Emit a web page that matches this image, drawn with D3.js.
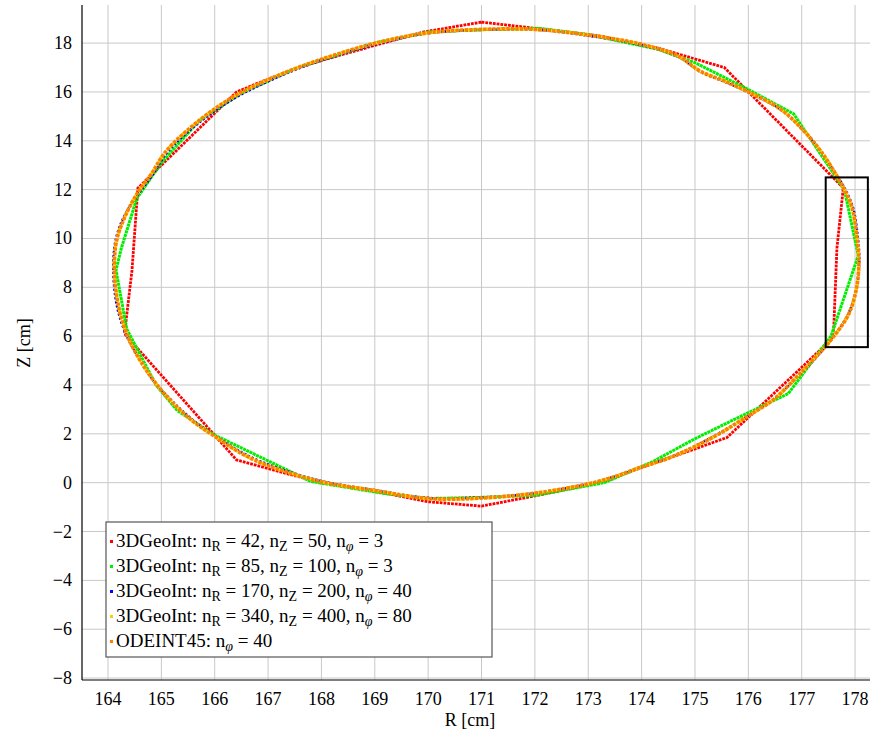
<!DOCTYPE html>
<html><head><meta charset="utf-8"><script src="https://cdn.jsdelivr.net/npm/d3@7"></script></head>
<body style="margin:0">
<svg id="chart" width="872" height="738"></svg>
<script>
// field line cross-sections, [R, Z] in cm

// 3DGeoInt nR=42, nZ=50, nphi=3 (coarse, piecewise linear)
const geo42 = [
  [171.0, 18.86], [172.1, 18.58], [173.2, 18.3], [174.3, 17.8], [175.55, 17.0],
  [177.78, 12.07], [177.66, 9.6], [177.6, 6.3], [177.55, 5.85], [175.6, 1.85],
  [174.7, 1.15], [173.97, 0.6], [173.3, 0.05], [172.1, -0.5], [171.0, -0.96],
  [170.0, -0.78], [169.0, -0.35], [167.9, 0.05], [166.41, 0.93], [164.31, 6.1],
  [164.45, 8.7], [164.56, 12.06], [166.41, 16.0], [166.8, 16.35], [167.6, 17.03],
  [168.5, 17.6], [169.9, 18.45]
];

// 3DGeoInt nR=85, nZ=100, nphi=3
const geo85 = [
  [171.0, 18.55], [172.1, 18.6], [173.0, 18.35], [174.3, 17.75], [175.0, 17.2],
  [176.0, 16.1], [176.85, 15.1], [177.8, 12.0], [178.06, 9.3], [177.55, 6.0],
  [176.75, 3.65], [175.7, 2.55], [175.0, 1.8], [174.2, 0.85], [173.3, 0.0],
  [172.0, -0.52], [171.0, -0.6], [170.0, -0.65], [169.2, -0.45], [167.8, 0.05],
  [166.0, 1.95], [165.3, 2.95], [164.9, 4.0], [164.35, 6.3], [164.15, 8.7],
  [164.25, 9.6], [164.54, 11.64], [165.0, 13.1], [165.7, 14.8], [166.5, 15.95],
  [167.5, 16.95], [169.0, 18.0], [170.0, 18.45]
];

// 3DGeoInt nR=170, nZ=200, nphi=40
const geo170 = [
  [169.1, 18.0], [170.0, 18.4], [171.0, 18.54], [172.0, 18.55], [173.0, 18.3],
  [174.0, 17.92], [174.7, 17.42], [175.1, 16.82], [175.55, 16.42], [176.0, 15.98],
  [176.6, 15.28], [177.0, 14.5], [177.35, 13.6], [177.62, 12.72], [177.82, 12.0],
  [177.97, 11.2], [178.05, 10.1], [178.08, 9.1], [178.03, 8.0], [177.87, 6.9],
  [177.55, 5.85], [177.22, 5.0], [176.86, 4.2], [176.48, 3.42], [175.98, 2.72],
  [175.47, 2.05], [174.97, 1.47], [174.5, 1.02], [173.97, 0.63], [173.5, 0.26],
  [173.0, -0.04], [172.0, -0.43], [171.0, -0.6], [170.0, -0.62], [169.0, -0.3],
  [168.0, 0.07], [167.0, 0.75], [166.5, 1.25], [166.0, 1.93], [165.6, 2.55],
  [165.2, 3.35], [164.84, 4.2], [164.55, 5.2], [164.33, 6.1], [164.17, 7.2],
  [164.1, 8.6], [164.14, 9.9], [164.3, 10.9], [164.56, 11.8], [164.82, 12.55],
  [165.12, 13.55], [165.74, 14.8], [166.38, 15.75], [167.02, 16.45], [167.62, 17.0],
  [168.3, 17.5]
];

// 3DGeoInt nR=340, nZ=400, nphi=80
const geo340 = [
  [169.1, 18.04], [170.0, 18.42], [171.0, 18.56], [172.0, 18.56], [173.0, 18.33],
  [174.0, 17.95], [174.7, 17.45], [175.1, 16.84], [175.55, 16.45], [176.0, 16.0],
  [176.6, 15.3], [177.0, 14.5], [177.35, 13.6], [177.62, 12.7], [177.8, 12.0],
  [177.95, 11.2], [178.03, 10.1], [178.07, 9.1], [178.03, 8.0], [177.88, 6.9],
  [177.55, 5.85], [177.2, 5.0], [176.85, 4.2], [176.47, 3.4], [175.97, 2.7],
  [175.47, 2.02], [174.97, 1.45], [174.5, 1.0], [173.97, 0.62], [173.5, 0.25],
  [173.0, -0.05], [172.0, -0.43], [171.0, -0.63], [170.0, -0.65], [169.0, -0.32],
  [168.0, 0.04], [167.0, 0.7], [166.5, 1.2], [166.0, 1.9], [165.6, 2.5],
  [165.2, 3.3], [164.85, 4.2], [164.55, 5.2], [164.35, 6.1], [164.2, 7.2],
  [164.12, 8.6], [164.16, 9.9], [164.32, 10.9], [164.55, 11.85], [164.8, 12.6],
  [165.1, 13.6], [165.72, 14.85], [166.35, 15.8], [167.0, 16.5], [167.6, 17.03],
  [168.3, 17.55]
];

// ODEINT45 nphi=40
const odeint45 = [
  [169.1, 18.05], [170.0, 18.42], [171.0, 18.56], [172.0, 18.56], [173.0, 18.33],
  [174.0, 17.95], [174.7, 17.45], [175.1, 16.85], [175.55, 16.45], [176.0, 16.0],
  [176.6, 15.3], [177.0, 14.5], [177.35, 13.6], [177.62, 12.7], [177.8, 12.0],
  [177.95, 11.2], [178.03, 10.1], [178.07, 9.1], [178.03, 8.0], [177.88, 6.9],
  [177.55, 5.85], [177.2, 5.0], [176.85, 4.2], [176.47, 3.4], [175.97, 2.7],
  [175.47, 2.02], [174.97, 1.45], [174.5, 1.0], [173.97, 0.62], [173.5, 0.25],
  [173.0, -0.05], [172.0, -0.43], [171.0, -0.63], [170.0, -0.65], [169.0, -0.32],
  [168.0, 0.04], [167.0, 0.7], [166.5, 1.2], [166.0, 1.9], [165.6, 2.5],
  [165.2, 3.3], [164.85, 4.2], [164.55, 5.2], [164.35, 6.1], [164.2, 7.2],
  [164.12, 8.6], [164.16, 9.9], [164.32, 10.9], [164.55, 11.85], [164.8, 12.6],
  [165.1, 13.6], [165.72, 14.85], [166.35, 15.8], [167.0, 16.5], [167.6, 17.03],
  [168.3, 17.55]
];

// zoom rectangle [R0, Z0, R1, Z1]
const zoomBox = [177.45, 5.55, 178.24, 12.5];

const xTicks = d3.range(164, 179, 1);
const yTicks = d3.range(-8, 19, 2);

const series = [
  { data: geo42, color: "#ff0000", width: 2.8, dash: "2.8,1", curve: d3.curveLinearClosed,
    label: ["3DGeoInt: n", "R", " = 42, n", "Z", " = 50, n", "φ", " = 3"] },
  { data: geo85, color: "#00ee00", width: 3, dash: "3,0.6", curve: d3.curveLinearClosed,
    label: ["3DGeoInt: n", "R", " = 85, n", "Z", " = 100, n", "φ", " = 3"] },
  { data: geo170, color: "#0000ff", width: 2.4, dash: "2.2,2", curve: d3.curveCatmullRomClosed,
    label: ["3DGeoInt: n", "R", " = 170, n", "Z", " = 200, n", "φ", " = 40"] },
  { data: geo340, color: "#f2d400", width: 3.2, dash: "2.6,1", curve: d3.curveCatmullRomClosed,
    label: ["3DGeoInt: n", "R", " = 340, n", "Z", " = 400, n", "φ", " = 80"] },
  { data: odeint45, color: "#ff8000", width: 3.6, dash: "3.2,1.4", curve: d3.curveCatmullRomClosed,
    label: ["ODEINT45: n", "φ", " = 40"] }
];

const svg = d3.select("#chart");
const plot = { left: 82, right: 870, top: 5, bottom: 680 };

const x = d3.scaleLinear().domain([163.513, 178.28]).range([plot.left, plot.right]);
const y = d3.scaleLinear().domain([-8.08, 19.56]).range([plot.bottom, plot.top]);

// grid
const grid = svg.append("g").attr("stroke", "#c8c8c8").attr("stroke-width", 1);
grid.selectAll("line.gx").data(xTicks).join("line")
  .attr("x1", d => x(d)).attr("x2", d => x(d))
  .attr("y1", plot.top).attr("y2", plot.bottom);
grid.selectAll("line.gy").data(yTicks).join("line")
  .attr("x1", plot.left).attr("x2", plot.right)
  .attr("y1", d => y(d)).attr("y2", d => y(d));

// curves
const line = d3.line().x(d => x(d[0])).y(d => y(d[1]));
svg.append("g").selectAll("path").data(series).join("path")
  .attr("d", s => line.curve(s.curve)(s.data))
  .attr("fill", "none")
  .attr("stroke", s => s.color)
  .attr("stroke-width", s => s.width)
  .attr("stroke-dasharray", s => s.dash);

// zoom box
svg.append("rect")
  .attr("x", x(zoomBox[0])).attr("y", y(zoomBox[3]))
  .attr("width", x(zoomBox[2]) - x(zoomBox[0]))
  .attr("height", y(zoomBox[1]) - y(zoomBox[3]))
  .attr("fill", "none").attr("stroke", "#000").attr("stroke-width", 2);

// axes (left and bottom only)
svg.append("line").attr("x1", plot.left).attr("x2", plot.left)
  .attr("y1", plot.top).attr("y2", plot.bottom)
  .attr("stroke", "#000").attr("stroke-width", 1.2);
svg.append("line").attr("x1", plot.left).attr("x2", plot.right)
  .attr("y1", plot.bottom).attr("y2", plot.bottom)
  .attr("stroke", "#000").attr("stroke-width", 1.2);

// text helper: serif face set both as attribute and as style
function label(px, py, str, anchor, size) {
  return svg.append("text")
    .attr("x", px).attr("y", py)
    .attr("text-anchor", anchor)
    .attr("font-family", "Liberation Serif")
    .attr("font-size", size)
    .style("font-family", "'Liberation Serif'")
    .style("font-size", size + "px")
    .text(str);
}

xTicks.forEach(d => label(x(d), plot.bottom + 25, String(d), "middle", 18));
yTicks.forEach(d => label(plot.left - 10, y(d) + 6, d < 0 ? "\u2212" + Math.abs(d) : String(d), "end", 18));

label(470, 726, "R [cm]", "middle", 18);
label(0, 0, "Z [cm]", "middle", 18).attr("transform", "translate(30,343) rotate(-90)");

// legend
const lx = 106, ly = 522;
svg.append("rect").attr("x", lx).attr("y", ly).attr("width", 386).attr("height", 135)
  .attr("fill", "#fff").attr("stroke", "#555").attr("stroke-width", 1.2);
series.forEach((s, i) => {
  const yy = ly + 25 + i * 25;
  svg.append("rect").attr("x", lx + 4).attr("y", yy - 7).attr("width", 3).attr("height", 3)
    .attr("fill", s.color);
  const t = label(lx + 10, yy, null, "start", 19);
  s.label.forEach((part, j) => {
    const sub = j % 2 === 1;
    t.append("tspan")
      .attr("dy", sub ? 4 : (j > 0 ? -4 : 0))
      .attr("font-family", "Liberation Serif")
      .style("font-family", "'Liberation Serif'")
      .style("font-size", sub ? "14px" : "19px")
      .style("font-style", part === "φ" ? "italic" : "normal")
      .text(part);
  });
});
</script>
</body>
</html>
